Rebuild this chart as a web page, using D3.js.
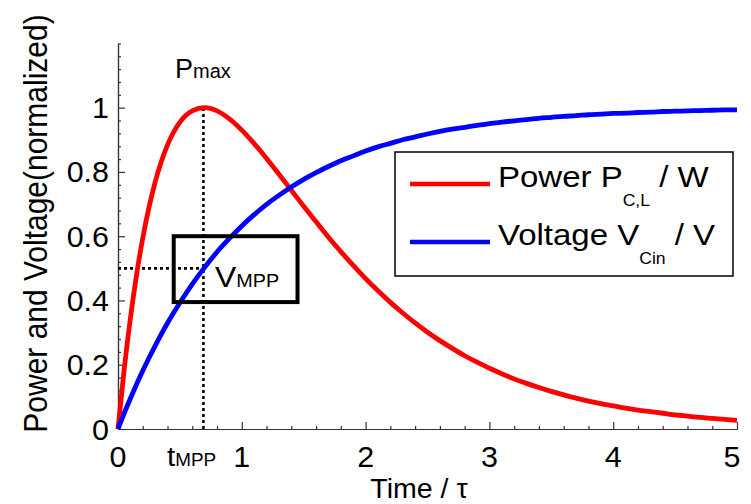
<!DOCTYPE html>
<html>
<head>
<meta charset="utf-8">
<script src="https://cdn.jsdelivr.net/npm/d3@7"></script>
<style>
  body { margin: 0; background: #fff; }
  svg { display: block; }
  text { font-family: Arial, "Liberation Sans", sans-serif; fill: #000; }
</style>
</head>
<body>
<svg id="chart" width="751" height="504"></svg>
<script>
// Normalised charging curves, time in units of tau
const time = [0, 0.05, 0.1, 0.15, 0.2, 0.25, 0.3, 0.4, 0.5, 0.6, 0.7, 0.8, 0.9, 1.0,
  1.1, 1.2, 1.3, 1.4, 1.5, 1.6, 1.7, 1.8, 1.9, 2.0, 2.1, 2.2, 2.3, 2.4, 2.5, 2.6, 2.7,
  2.8, 2.9, 3.0, 3.1, 3.2, 3.3, 3.4, 3.5, 3.6, 3.7, 3.8, 3.9, 4.0, 4.1, 4.2, 4.3, 4.4,
  4.5, 4.6, 4.7, 4.8, 4.9, 5.0];
const power = [0, 0.186, 0.344, 0.480, 0.594, 0.689, 0.768, 0.884, 0.955, 0.990, 1.000,
  0.990, 0.965, 0.930, 0.888, 0.842, 0.793, 0.743, 0.693, 0.645, 0.597, 0.552, 0.509,
  0.468, 0.430, 0.394, 0.361, 0.330, 0.301, 0.275, 0.251, 0.228, 0.208, 0.189, 0.172,
  0.156, 0.142, 0.129, 0.117, 0.106, 0.096, 0.087, 0.079, 0.072, 0.065, 0.059, 0.054,
  0.049, 0.044, 0.040, 0.036, 0.033, 0.030, 0.027];
const voltage = [0, 0.049, 0.095, 0.139, 0.181, 0.221, 0.259, 0.330, 0.393, 0.451, 0.503,
  0.551, 0.593, 0.632, 0.667, 0.699, 0.727, 0.753, 0.777, 0.798, 0.817, 0.835, 0.850,
  0.865, 0.878, 0.889, 0.900, 0.909, 0.918, 0.926, 0.933, 0.939, 0.945, 0.950, 0.955,
  0.959, 0.963, 0.967, 0.970, 0.973, 0.975, 0.978, 0.980, 0.982, 0.983, 0.985, 0.986,
  0.988, 0.989, 0.990, 0.991, 0.992, 0.993, 0.993];

const xTicks = [0, 1, 2, 3, 4, 5];
const yTicks = [0, 0.2, 0.4, 0.6, 0.8, 1];
const xMinorStep = 0.2;
const yMinorStep = 0.04;

// Maximum power point
const tMPP = 0.69;
const vMPP = 0.5;
const pMax = 1;
const mppBoxT = [0.45, 1.45];
const mppBoxV = [0.395, 0.6];

const series = [
  { name: "Power P", sub: "C,L", unit: " / W", values: power, color: "#ff0000" },
  { name: "Voltage V", sub: "Cin", unit: " / V", values: voltage, color: "#0000ff" }
];

const svg = d3.select("#chart");
const x = d3.scaleLinear().domain([0, 5]).range([118, 737]);
const y = d3.scaleLinear().domain([0, 1.2]).range([429, 43.4]);

// text placed at (px, py) with an optional horizontal glyph stretch
function stretched(parent, px, py, anchor, sx) {
  return parent.append("text")
    .attr("transform", `translate(${px},${py}) scale(${sx || 1},1)`)
    .attr("text-anchor", anchor);
}

// ---- axes ----
const axisColor = "#333";
const near = (a, b) => Math.abs(a - b) < 1e-6;
const xMinor = d3.range(0, 5 + 1e-9, xMinorStep).filter(v => !xTicks.some(t => near(t, v)));
const yMinor = d3.range(0, 1.2 + 1e-9, yMinorStep).filter(v => !yTicks.some(t => near(t, v)));

const gx = svg.append("g").attr("transform", `translate(0,${y(0)})`);
gx.append("g").call(d3.axisBottom(x).tickValues(xMinor).tickSize(-3).tickSizeOuter(0).tickFormat(""));
gx.append("g").call(d3.axisBottom(x).tickValues(xTicks).tickSize(-7).tickSizeOuter(0).tickFormat(""));

const gy = svg.append("g").attr("transform", `translate(${x(0)},0)`);
gy.append("g").call(d3.axisLeft(y).tickValues(yMinor).tickSize(-3).tickSizeOuter(0).tickFormat(""));
gy.append("g").call(d3.axisLeft(y).tickValues(yTicks).tickSize(-7).tickSizeOuter(0).tickFormat(""));

svg.selectAll(".domain, .tick line").attr("stroke", axisColor).attr("stroke-width", 1.2);

// tick labels
xTicks.forEach((t, i) => {
  const shift = i === xTicks.length - 1 ? -5 : 0;
  stretched(svg, x(t) + shift, 467, "middle", 1.05).style("font-size", "29px").text(t);
});
yTicks.forEach(t => {
  stretched(svg, 109, y(t) + 10.5, "end", 1.05).style("font-size", "29px").text(t);
});

// axis titles
stretched(svg, 419, 498, "middle", 1.02).style("font-size", "28px").text("Time / \u03c4");
svg.append("text")
  .attr("transform", `translate(47,223.5) scale(1.1,1) rotate(-90)`)
  .attr("text-anchor", "middle")
  .style("font-size", "30px")
  .text("Power and Voltage(normalized)");

// ---- MPP guides ----
const guides = svg.append("g")
  .attr("stroke", "#000").attr("stroke-width", 2.6).attr("stroke-dasharray", "3,3").attr("fill", "none");
guides.append("line").attr("x1", x(tMPP)).attr("x2", x(tMPP)).attr("y1", y(0)).attr("y2", y(pMax));
guides.append("line").attr("x1", x(0)).attr("x2", x(tMPP)).attr("y1", y(vMPP)).attr("y2", y(vMPP));

// ---- curves ----
const line = d3.line().curve(d3.curveMonotoneX);
series.forEach(s => {
  svg.append("path")
    .attr("d", line(time.map((t, i) => [x(t), y(s.values[i])])))
    .attr("fill", "none")
    .attr("stroke", s.color)
    .attr("stroke-width", 4.8);
});

// V_MPP box
svg.append("rect")
  .attr("x", x(mppBoxT[0])).attr("y", y(mppBoxV[1]))
  .attr("width", x(mppBoxT[1]) - x(mppBoxT[0]))
  .attr("height", y(mppBoxV[0]) - y(mppBoxV[1]))
  .attr("fill", "none").attr("stroke", "#000").attr("stroke-width", 4);

const vLab = stretched(svg, 215, 287, "start", 1.1);
vLab.append("tspan").style("font-size", "29px").text("V");
vLab.append("tspan").style("font-size", "18px").text("MPP");

const pLab = stretched(svg, 175, 78, "start", 1.0);
pLab.append("tspan").style("font-size", "27px").text("P");
pLab.append("tspan").style("font-size", "20px").text("max");

const tLab = stretched(svg, 167, 466, "start", 1.05);
tLab.append("tspan").style("font-size", "28px").text("t");
tLab.append("tspan").style("font-size", "18px").text("MPP");

// ---- legend ----
const legend = svg.append("g");
legend.append("rect")
  .attr("x", 395).attr("y", 152).attr("width", 338).attr("height", 124)
  .attr("fill", "#fff").attr("stroke", "#000").attr("stroke-width", 1.5);
series.forEach((s, i) => {
  const ly = 184 + i * 58;
  legend.append("line")
    .attr("x1", 410).attr("x2", 490).attr("y1", ly).attr("y2", ly)
    .attr("stroke", s.color).attr("stroke-width", 4.5);
  const t = stretched(legend, 498, ly + 3, "start", 1.1).style("font-size", "30px");
  t.append("tspan").text(s.name);
  t.append("tspan").attr("dy", 19).style("font-size", "16px").text(s.sub);
  t.append("tspan").attr("dy", -19).text(s.unit);
});
</script>
</body>
</html>
